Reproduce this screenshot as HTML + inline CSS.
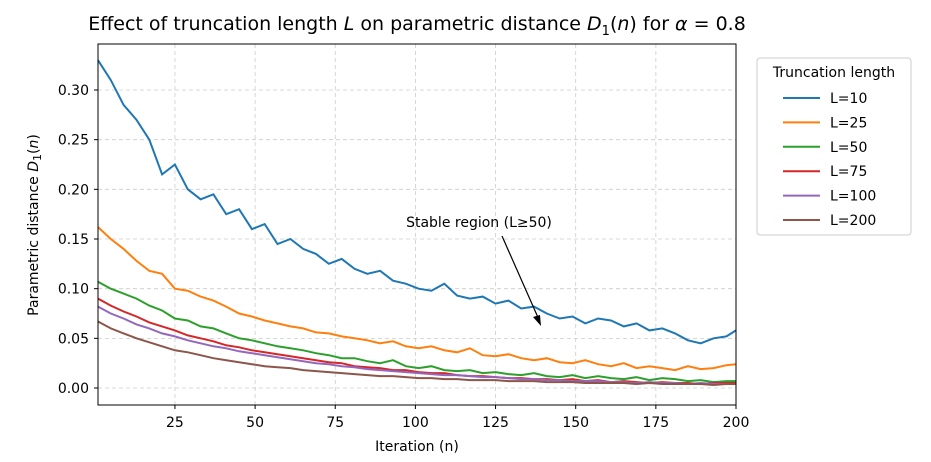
<!DOCTYPE html>
<html><head><meta charset="utf-8"><style>
body{margin:0;background:#fff;}
svg{display:block;font-family:"DejaVu Sans","Liberation Sans",sans-serif;}
</style></head><body>
<svg id="chart" width="931" height="462" viewBox="0 0 931 462">
<g id="grid"></g>
<g id="series"></g>
<rect x="98" y="44" width="638" height="361" fill="none" stroke="#000" stroke-width="1"/>
<g id="axes"></g>
<text x="417" y="30" text-anchor="middle" font-size="19">Effect of truncation length <tspan font-style="italic">L</tspan> on parametric distance <tspan font-style="italic">D</tspan><tspan font-size="13" dy="5">1</tspan><tspan dy="-5">(</tspan><tspan font-style="italic">n</tspan>) for <tspan font-style="italic">α</tspan> = 0.8</text>
<text x="417" y="451" text-anchor="middle" font-size="14">Iteration (n)</text>
<text transform="translate(38,225) rotate(-90)" text-anchor="middle" font-size="14">Parametric distance <tspan font-style="italic">D</tspan><tspan font-size="11" dy="3">1</tspan><tspan dy="-3">(</tspan><tspan font-style="italic">n</tspan>)</text>
<g>
<text x="479" y="227" text-anchor="middle" font-size="14">Stable region (L≥50)</text>
<line x1="502" y1="236" x2="540" y2="322" stroke="#000" stroke-width="1.2"/>
<path d="M541,326 L533,317 L540,315 Z" fill="#000"/>
</g>
<g id="legend">
<rect x="757" y="58" width="154" height="177" rx="3" fill="#fff" stroke="#ccc"/>
<text x="834" y="77" text-anchor="middle" font-size="14">Truncation length</text>
</g>
</svg>
<script>
const iterations=[1,5,9,13,17,21,25,29,33,37,41,45,49,53,57,61,65,69,73,77,81,85,89,93,97,101,105,109,113,117,121,125,129,133,137,141,145,149,153,157,161,165,169,173,177,181,185,189,193,197,200];
const seriesNames=["L=10","L=25","L=50","L=75","L=100","L=200"];
const colors=["#1f77b4","#ff7f0e","#2ca02c","#d62728","#9467bd","#8c564b"];
const L10=[0.33,0.31,0.285,0.27,0.25,0.215,0.225,0.20,0.19,0.195,0.175,0.18,0.16,0.165,0.145,0.15,0.14,0.135,0.125,0.13,0.12,0.115,0.118,0.108,0.105,0.10,0.098,0.105,0.093,0.09,0.092,0.085,0.088,0.08,0.082,0.075,0.07,0.072,0.065,0.07,0.068,0.062,0.065,0.058,0.06,0.055,0.048,0.045,0.05,0.052,0.058];
const L25=[0.162,0.15,0.14,0.128,0.118,0.115,0.10,0.098,0.092,0.088,0.082,0.075,0.072,0.068,0.065,0.062,0.06,0.056,0.055,0.052,0.05,0.048,0.045,0.047,0.042,0.04,0.042,0.038,0.036,0.04,0.033,0.032,0.034,0.03,0.028,0.03,0.026,0.025,0.028,0.024,0.022,0.025,0.02,0.022,0.02,0.018,0.022,0.019,0.02,0.023,0.024];
const L50=[0.107,0.10,0.095,0.09,0.083,0.078,0.07,0.068,0.062,0.06,0.055,0.05,0.048,0.045,0.042,0.04,0.038,0.035,0.033,0.03,0.03,0.027,0.025,0.028,0.022,0.02,0.022,0.018,0.017,0.018,0.015,0.016,0.014,0.013,0.015,0.012,0.011,0.013,0.01,0.012,0.01,0.009,0.011,0.008,0.01,0.009,0.007,0.008,0.006,0.007,0.007];
const L75=[0.09,0.083,0.077,0.072,0.066,0.062,0.058,0.053,0.05,0.047,0.043,0.041,0.038,0.036,0.034,0.032,0.03,0.028,0.026,0.025,0.022,0.021,0.02,0.018,0.018,0.016,0.015,0.015,0.013,0.012,0.012,0.011,0.01,0.01,0.009,0.009,0.008,0.009,0.007,0.008,0.006,0.007,0.006,0.005,0.006,0.005,0.005,0.004,0.005,0.005,0.005];
const L100=[0.082,0.075,0.07,0.064,0.06,0.055,0.052,0.048,0.045,0.042,0.04,0.037,0.035,0.033,0.031,0.029,0.027,0.025,0.024,0.022,0.021,0.019,0.018,0.017,0.016,0.015,0.014,0.013,0.013,0.012,0.011,0.011,0.01,0.009,0.009,0.008,0.008,0.007,0.007,0.007,0.006,0.006,0.005,0.006,0.005,0.005,0.004,0.005,0.004,0.004,0.004];
const L200=[0.067,0.06,0.055,0.05,0.046,0.042,0.038,0.036,0.033,0.03,0.028,0.026,0.024,0.022,0.021,0.02,0.018,0.017,0.016,0.015,0.014,0.013,0.012,0.012,0.011,0.01,0.01,0.009,0.009,0.008,0.008,0.008,0.007,0.007,0.007,0.006,0.006,0.006,0.005,0.005,0.005,0.005,0.004,0.005,0.004,0.004,0.004,0.004,0.003,0.004,0.004];
const xTicks=[25,50,75,100,125,150,175,200];
const yTicks=[0,0.05,0.10,0.15,0.20,0.25,0.30];
const yTickLabels=["0.00","0.05","0.10","0.15","0.20","0.25","0.30"];

const NS="http://www.w3.org/2000/svg";
const X0=98,X1=736,Y0=44,Y1=405;
const YMIN=-0.0171,YMAX=0.3463;
function xs(v){return X0+(v-1)/(200-1)*(X1-X0);}
function ys(v){return Y1-(v-YMIN)/(YMAX-YMIN)*(Y1-Y0);}
function mk(tag,attrs,parent){const e=document.createElementNS(NS,tag);for(const k in attrs)e.setAttribute(k,attrs[k]);parent.appendChild(e);return e;}
const grid=document.getElementById('grid'),axes=document.getElementById('axes'),ser=document.getElementById('series'),leg=document.getElementById('legend');
xTicks.forEach(t=>{
  const g=mk('line',{x1:xs(t),x2:xs(t),y1:Y0,y2:Y1,stroke:'#ccc','stroke-dasharray':'4,3','stroke-width':0.8},grid);
  
  
  const tk=mk('line',{x1:xs(t),x2:xs(t),y1:Y1,y2:Y1+4,stroke:'#000'},axes);
  
  
  const tx=mk('text',{x:xs(t),y:Y1+22,'text-anchor':'middle','font-size':14},axes);
  tx.textContent=t;
  
  
});
yTicks.forEach((t,i)=>{
  const g=mk('line',{x1:X0,x2:X1,y1:ys(t),y2:ys(t),stroke:'#ccc','stroke-dasharray':'4,3','stroke-width':0.8},grid);
  
  
  const tk=mk('line',{x1:X0-4,x2:X0,y1:ys(t),y2:ys(t),stroke:'#000'},axes);
  
  
  const tx=mk('text',{x:X0-9,y:ys(t)+5,'text-anchor':'end','font-size':14},axes);
  tx.textContent=yTickLabels[i];
  
  
});
const all=[L10,L25,L50,L75,L100,L200];
all.forEach((arr,si)=>{
  const d=arr.map((v,i)=>(i?'L':'M')+xs(iterations[i]).toFixed(1)+','+ys(v).toFixed(1)).join(' ');
  const p=mk('path',{d:d,fill:'none',stroke:colors[si],'stroke-width':2},ser);
  
  
  const ly=98+si*24.4;
  const ll=mk('line',{x1:783,x2:820,y1:ly,y2:ly,stroke:colors[si],'stroke-width':2},leg);
  
  
  const lt=mk('text',{x:830,y:ly+5,'font-size':14},leg);
  lt.textContent=seriesNames[si];
  
  
});
</script>
</body></html>
